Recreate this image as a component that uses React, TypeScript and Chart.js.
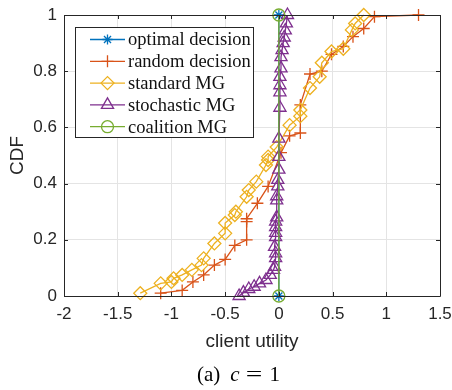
import React, { useEffect, useRef } from 'react';
import { Chart, registerables } from 'chart.js';
import { drawPoint } from 'chart.js/helpers';

Chart.register(...registerables);

const xTicks = [-2, -1.5, -1, -0.5, 0, 0.5, 1, 1.5];
const xTickLabels = ['-2', '-1.5', '-1', '-0.5', '0', '0.5', '1', '1.5'];
const yTicks = [0, 0.2, 0.4, 0.6, 0.8, 1];
const yTickLabels = ['0', '0.2', '0.4', '0.6', '0.8', '1'];

const seriesNames = ['optimal decision', 'random decision', 'standard MG', 'stochastic MG', 'coalition MG'];

const optimalX = [0, 0];
const optimalY = [0, 1];

const randomX = [-1.1, -0.9, -0.8, -0.7, -0.6, -0.5, -0.41, -0.3, -0.3, -0.3, -0.2, -0.1, 0.02, 0.1, 0.2, 0.2, 0.29, 0.4, 0.49, 0.6, 0.69, 0.79, 0.89, 1.3];
const randomY = [0.01, 0.02, 0.05, 0.075, 0.11, 0.13, 0.18, 0.2, 0.265, 0.275, 0.33, 0.39, 0.51, 0.57, 0.58, 0.68, 0.79, 0.8, 0.86, 0.888, 0.923, 0.952, 0.994, 1.0];

const standardX = [-1.29, -1.1, -1.0, -0.98, -0.9, -0.81, -0.72, -0.7, -0.6, -0.5, -0.5, -0.41, -0.4, -0.3, -0.28, -0.21, -0.12, -0.1, -0.1, -0.02, 0.1, 0.2, 0.2, 0.29, 0.38, 0.4, 0.49, 0.6, 0.68, 0.71, 0.79];
const standardY = [0.01, 0.045, 0.05, 0.063, 0.075, 0.093, 0.11, 0.134, 0.187, 0.223, 0.26, 0.288, 0.3, 0.353, 0.377, 0.407, 0.466, 0.484, 0.496, 0.53, 0.608, 0.64, 0.662, 0.74, 0.78, 0.83, 0.87, 0.88, 0.947, 0.97, 1.0];

const stochasticX = [-0.37, -0.33, -0.28, -0.23, -0.18, -0.12, -0.08, -0.05, -0.04, -0.03, -0.03, -0.04, -0.03, -0.03, -0.03, -0.03, -0.02, -0.02, -0.02, -0.01, -0.01, 0, 0, 0, 0.01, 0.01, 0.01, 0.01, 0.02, 0.02, 0.03, 0.04, 0.05, 0.06, 0.07, 0.08];
const stochasticY = [0, 0.012, 0.025, 0.033, 0.045, 0.057, 0.075, 0.093, 0.104, 0.135, 0.152, 0.175, 0.21, 0.225, 0.245, 0.265, 0.28, 0.34, 0.355, 0.39, 0.413, 0.45, 0.495, 0.56, 0.67, 0.725, 0.75, 0.78, 0.81, 0.85, 0.875, 0.9, 0.92, 0.945, 0.97, 1.0];

const coalitionX = [0, 0];
const coalitionY = [0, 1];

const colors = ['#0072BD', '#D95319', '#EDB120', '#7E2F8E', '#77AC30'];
const markers = ['star', 'cross', 'rectRot', 'triangle', 'circle'];
const radii = [5, 6, 6.5, 7, 6];

const zip = (xs: number[], ys: number[]) => xs.map((x, i) => ({ x, y: ys[i] }));
const allData = [
  zip(optimalX, optimalY),
  zip(randomX, randomY),
  zip(standardX, standardY),
  zip(stochasticX, stochasticY),
  zip(coalitionX, coalitionY),
];

const AXIS = '#262626';

const frameLegendPlugin = {
  id: 'frameLegend',
  afterDatasetsDraw(chart: any) {
    const { ctx, chartArea } = chart;
    const { left, right, top, bottom } = chartArea;
    const xs = chart.scales.x;
    const ys = chart.scales.y;
    ctx.save();
    ctx.strokeStyle = AXIS;
    ctx.lineWidth = 1;
    ctx.beginPath();
    ctx.rect(Math.round(left) + 0.5, Math.round(top) + 0.5, Math.round(right - left), Math.round(bottom - top));
    ctx.stroke();
    const tl = 4;
    ctx.beginPath();
    xTicks.forEach((v) => {
      const px = Math.round(xs.getPixelForValue(v)) + 0.5;
      ctx.moveTo(px, bottom);
      ctx.lineTo(px, bottom - tl);
      ctx.moveTo(px, top);
      ctx.lineTo(px, top + tl);
    });
    yTicks.forEach((v) => {
      const py = Math.round(ys.getPixelForValue(v)) + 0.5;
      ctx.moveTo(left, py);
      ctx.lineTo(left + tl, py);
      ctx.moveTo(right, py);
      ctx.lineTo(right - tl, py);
    });
    ctx.stroke();

    // legend
    const lx = Math.round(left) + 11;
    const ly = Math.round(top) + 12;
    const lw = 178;
    const lh = 110;
    ctx.fillStyle = '#ffffff';
    ctx.fillRect(lx, ly, lw, lh);
    ctx.strokeStyle = '#262626';
    ctx.strokeRect(lx + 0.5, ly + 0.5, lw, lh);
    ctx.font = '18.5px "Liberation Serif"';
    ctx.textBaseline = 'middle';
    ctx.textAlign = 'left';
    seriesNames.forEach((name, i) => {
      const cy = ly + 12.5 + i * 21.8;
      ctx.strokeStyle = colors[i];
      ctx.lineWidth = 1.3;
      ctx.beginPath();
      ctx.moveTo(lx + 15, cy);
      ctx.lineTo(lx + 50, cy);
      ctx.stroke();
      ctx.fillStyle = 'rgba(0,0,0,0)';
      drawPoint(ctx, { pointStyle: markers[i], radius: radii[i], rotation: 0, borderWidth: 1.3 } as any, lx + 32.5, cy);
      ctx.fillStyle = '#111111';
      ctx.fillText(name, lx + 53, cy + 1);
    });
    ctx.restore();
  },
};

export default function App() {
  const ref = useRef<HTMLCanvasElement>(null);
  useEffect(() => {
    const datasets = allData.map((d, i) => ({
      label: seriesNames[i],
      data: d,
      showLine: true,
      borderColor: colors[i],
      backgroundColor: 'rgba(0,0,0,0)',
      borderWidth: 1.3,
      pointStyle: markers[i],
      pointRadius: radii[i],
      pointBorderWidth: 1.3,
      pointBorderColor: colors[i],
      pointBackgroundColor: 'rgba(0,0,0,0)',
      order: 5 - i,
      clip: false as any,
    }));
    const chart = new Chart(ref.current!, {
      type: 'scatter',
      data: { datasets },
      options: {
        animation: false,
        responsive: false,
        maintainAspectRatio: false,
        devicePixelRatio: 1,
        layout: { padding: { left: 6, right: 12, top: 15, bottom: 34 } },
        plugins: { legend: { display: false }, tooltip: { enabled: false } },
        scales: {
          x: {
            type: 'linear',
            min: -2,
            max: 1.5,
            afterBuildTicks: (s: any) => { s.ticks = xTicks.map((v) => ({ value: v })); },
            afterFit: (s: any) => { s.height = 60; s.paddingLeft = 0; s.paddingRight = 0; },
            ticks: {
              callback: (v: any) => { const i = xTicks.findIndex((t) => Math.abs(t - v) < 1e-9); return i >= 0 ? xTickLabels[i] : ''; },
              font: { family: 'Liberation Sans', size: 17 },
              color: AXIS,
              padding: 8,
              maxRotation: 0,
              autoSkip: false,
            },
            grid: { color: '#e4e4e4', drawTicks: false },
            border: { display: false },
            title: { display: true, text: 'client utility', font: { family: 'Liberation Sans', size: 19 }, color: AXIS, padding: { top: 0, bottom: 3 } },
          },
          y: {
            type: 'linear',
            min: 0,
            max: 1,
            afterBuildTicks: (s: any) => { s.ticks = yTicks.map((v) => ({ value: v })); },
            afterFit: (s: any) => { s.width = 58; s.paddingTop = 0; s.paddingBottom = 0; },
            ticks: {
              callback: (v: any) => { const i = yTicks.findIndex((t) => Math.abs(t - v) < 1e-9); return i >= 0 ? yTickLabels[i] : ''; },
              font: { family: 'Liberation Sans', size: 17 },
              color: AXIS,
              padding: 7,
              autoSkip: false,
            },
            grid: { color: '#e4e4e4', drawTicks: false },
            border: { display: false },
            title: { display: true, text: 'CDF', font: { family: 'Liberation Sans', size: 19 }, color: AXIS, padding: { top: 0, bottom: 0 } },
          },
        },
      },
      plugins: [frameLegendPlugin],
    });
    return () => chart.destroy();
  }, []);

  return (
    <div style={{ position: 'fixed', left: 0, top: 0, width: 452, height: 390, background: '#ffffff', overflow: 'hidden' }}>
      <canvas ref={ref} width={452} height={390} style={{ display: 'block', width: 452, height: 390 }} />
      <div style={{ position: 'absolute', left: 197, top: 362, fontFamily: '"Liberation Serif", serif', fontSize: 21, whiteSpace: 'nowrap', color: '#000', lineHeight: '24px' }}>
        <span>(a)</span>
        <span style={{ fontStyle: 'italic', marginLeft: 10 }}>c</span>
        <span style={{ marginLeft: 8, display: 'inline-block', transform: 'scaleX(1.4)' }}>=</span>
        <span style={{ marginLeft: 10 }}>1</span>
      </div>
    </div>
  );
}
